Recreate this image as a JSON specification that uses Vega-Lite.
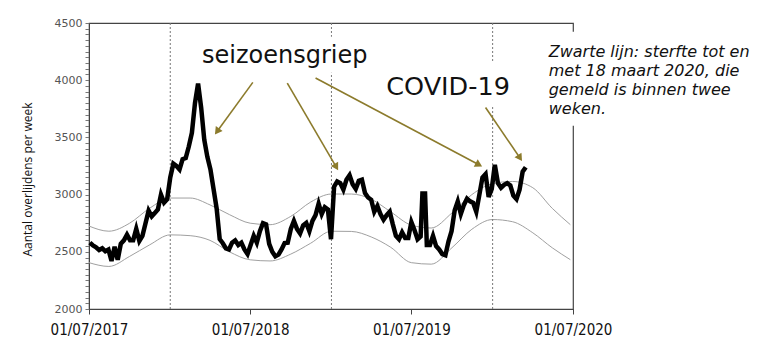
{
  "$schema": "https://vega.github.io/schema/vega-lite/v6.json",
  "width": 484,
  "height": 286,
  "autosize": {"type": "none"},
  "padding": {"left": 89, "top": 23, "right": 190, "bottom": 43},
  "background": "white",
  "config": {"view": {"stroke": "#444", "strokeWidth": 1.2}, "font": "DejaVu Sans"},
  "datasets": {
    "series": [
      {"date":"2017-07-03","deaths":2580},{"date":"2017-07-10","deaths":2555},{"date":"2017-07-17","deaths":2540},{"date":"2017-07-24","deaths":2515},
      {"date":"2017-07-31","deaths":2530},{"date":"2017-08-07","deaths":2505},{"date":"2017-08-14","deaths":2520},{"date":"2017-08-21","deaths":2420},
      {"date":"2017-08-28","deaths":2545},{"date":"2017-09-04","deaths":2430},{"date":"2017-09-11","deaths":2570},{"date":"2017-09-18","deaths":2600},
      {"date":"2017-09-25","deaths":2650},{"date":"2017-10-02","deaths":2600},{"date":"2017-10-09","deaths":2600},{"date":"2017-10-16","deaths":2700},
      {"date":"2017-10-23","deaths":2595},{"date":"2017-10-30","deaths":2640},{"date":"2017-11-06","deaths":2750},{"date":"2017-11-13","deaths":2860},
      {"date":"2017-11-20","deaths":2810},{"date":"2017-11-27","deaths":2840},{"date":"2017-12-04","deaths":2870},{"date":"2017-12-11","deaths":3000},
      {"date":"2017-12-18","deaths":2930},{"date":"2017-12-25","deaths":2960},{"date":"2018-01-01","deaths":3150},{"date":"2018-01-08","deaths":3270},
      {"date":"2018-01-15","deaths":3250},{"date":"2018-01-22","deaths":3220},{"date":"2018-01-29","deaths":3310},{"date":"2018-02-05","deaths":3320},
      {"date":"2018-02-12","deaths":3420},{"date":"2018-02-19","deaths":3540},{"date":"2018-02-26","deaths":3800},{"date":"2018-03-05","deaths":3970},
      {"date":"2018-03-12","deaths":3760},{"date":"2018-03-19","deaths":3480},{"date":"2018-03-26","deaths":3330},{"date":"2018-04-02","deaths":3220},
      {"date":"2018-04-09","deaths":3050},{"date":"2018-04-16","deaths":2880},{"date":"2018-04-23","deaths":2610},{"date":"2018-04-30","deaths":2575},
      {"date":"2018-05-07","deaths":2530},{"date":"2018-05-14","deaths":2520},{"date":"2018-05-21","deaths":2580},{"date":"2018-05-28","deaths":2600},
      {"date":"2018-06-04","deaths":2560},{"date":"2018-06-11","deaths":2580},{"date":"2018-06-18","deaths":2520},{"date":"2018-06-25","deaths":2480},
      {"date":"2018-07-02","deaths":2560},{"date":"2018-07-09","deaths":2640},{"date":"2018-07-16","deaths":2580},{"date":"2018-07-23","deaths":2680},
      {"date":"2018-07-30","deaths":2750},{"date":"2018-08-06","deaths":2740},{"date":"2018-08-13","deaths":2570},{"date":"2018-08-20","deaths":2500},
      {"date":"2018-08-27","deaths":2460},{"date":"2018-09-03","deaths":2475},{"date":"2018-09-10","deaths":2520},{"date":"2018-09-17","deaths":2577},
      {"date":"2018-09-24","deaths":2580},{"date":"2018-10-01","deaths":2700},{"date":"2018-10-08","deaths":2770},{"date":"2018-10-15","deaths":2700},
      {"date":"2018-10-22","deaths":2660},{"date":"2018-10-29","deaths":2730},{"date":"2018-11-05","deaths":2752},{"date":"2018-11-12","deaths":2680},
      {"date":"2018-11-19","deaths":2770},{"date":"2018-11-26","deaths":2820},{"date":"2018-12-03","deaths":2920},{"date":"2018-12-10","deaths":2830},
      {"date":"2018-12-17","deaths":2890},{"date":"2018-12-24","deaths":2870},{"date":"2018-12-31","deaths":2610},{"date":"2019-01-07","deaths":3070},
      {"date":"2019-01-14","deaths":3115},{"date":"2019-01-21","deaths":3100},{"date":"2019-01-28","deaths":3043},{"date":"2019-02-04","deaths":3130},
      {"date":"2019-02-11","deaths":3170},{"date":"2019-02-18","deaths":3090},{"date":"2019-02-25","deaths":3050},{"date":"2019-03-04","deaths":3120},
      {"date":"2019-03-11","deaths":3130},{"date":"2019-03-18","deaths":3014},{"date":"2019-03-25","deaths":2975},{"date":"2019-04-01","deaths":2955},
      {"date":"2019-04-08","deaths":2850},{"date":"2019-04-15","deaths":2900},{"date":"2019-04-22","deaths":2830},{"date":"2019-04-29","deaths":2780},
      {"date":"2019-05-06","deaths":2820},{"date":"2019-05-13","deaths":2850},{"date":"2019-05-20","deaths":2740},{"date":"2019-05-27","deaths":2640},
      {"date":"2019-06-03","deaths":2610},{"date":"2019-06-10","deaths":2670},{"date":"2019-06-17","deaths":2620},{"date":"2019-06-24","deaths":2620},
      {"date":"2019-07-01","deaths":2760},{"date":"2019-07-08","deaths":2690},{"date":"2019-07-15","deaths":2610},{"date":"2019-07-22","deaths":2635},
      {"date":"2019-07-26","deaths":3010},{"date":"2019-08-01","deaths":3010},{"date":"2019-08-05","deaths":2560},{"date":"2019-08-12","deaths":2560},{"date":"2019-08-19","deaths":2640},
      {"date":"2019-08-26","deaths":2550},{"date":"2019-09-02","deaths":2520},{"date":"2019-09-09","deaths":2480},{"date":"2019-09-16","deaths":2470},
      {"date":"2019-09-23","deaths":2590},{"date":"2019-09-30","deaths":2680},{"date":"2019-10-07","deaths":2860},{"date":"2019-10-14","deaths":2940},
      {"date":"2019-10-21","deaths":2830},{"date":"2019-10-28","deaths":2910},{"date":"2019-11-04","deaths":2965},{"date":"2019-11-11","deaths":2941},
      {"date":"2019-11-18","deaths":2927},{"date":"2019-11-25","deaths":2850},{"date":"2019-12-02","deaths":3000},{"date":"2019-12-09","deaths":3150},
      {"date":"2019-12-16","deaths":3180},{"date":"2019-12-23","deaths":2980},{"date":"2019-12-30","deaths":3050},{"date":"2020-01-06","deaths":3260},
      {"date":"2020-01-13","deaths":3100},{"date":"2020-01-20","deaths":3060},{"date":"2020-01-27","deaths":3086},{"date":"2020-02-03","deaths":3100},
      {"date":"2020-02-10","deaths":3080},{"date":"2020-02-17","deaths":2990},{"date":"2020-02-24","deaths":2960},{"date":"2020-03-02","deaths":3043},
      {"date":"2020-03-09","deaths":3200},{"date":"2020-03-16","deaths":3240}
    ],
    "bands": [
      {"date":"2017-07-01","upper":2725,"lower":2405},
      {"date":"2017-08-15","upper":2680,"lower":2372},
      {"date":"2017-10-01","upper":2750,"lower":2460},
      {"date":"2017-11-15","upper":2880,"lower":2560},
      {"date":"2018-01-01","upper":2970,"lower":2648},
      {"date":"2018-02-15","upper":2970,"lower":2641},
      {"date":"2018-04-01","upper":2910,"lower":2600},
      {"date":"2018-05-15","upper":2825,"lower":2500},
      {"date":"2018-07-01","upper":2750,"lower":2430},
      {"date":"2018-08-15","upper":2737,"lower":2420},
      {"date":"2018-10-01","upper":2810,"lower":2480},
      {"date":"2018-11-15","upper":2935,"lower":2575},
      {"date":"2019-01-01","upper":3005,"lower":2680},
      {"date":"2019-02-15","upper":3005,"lower":2678},
      {"date":"2019-04-01","upper":2960,"lower":2630},
      {"date":"2019-05-15","upper":2850,"lower":2540},
      {"date":"2019-07-01","upper":2733,"lower":2405},
      {"date":"2019-08-15","upper":2708,"lower":2392},
      {"date":"2019-10-01","upper":2840,"lower":2536},
      {"date":"2019-11-15","upper":3000,"lower":2697},
      {"date":"2020-01-01","upper":3096,"lower":2782},
      {"date":"2020-02-15","upper":3115,"lower":2763},
      {"date":"2020-04-01","upper":3060,"lower":2666},
      {"date":"2020-05-15","upper":2880,"lower":2535},
      {"date":"2020-06-25","upper":2737,"lower":2431}
    ],
    "seasons": [{"date":"2018-01-01"},{"date":"2019-01-01"},{"date":"2020-01-01"}],
    "boxes": [
      {"x0":"2018-02-26","x1":"2019-04-16","y0":4380,"y1":4065},
      {"x0":"2019-04-20","x1":"2020-02-27","y0":4153,"y1":3768},
      {"x0":"2020-04-17","x1":"2021-09-05","y0":4424,"y1":3602}
    ],
    "arrows": [
      {"n":1,"x0":"2018-07-07","y0":3981,"x1":"2018-04-17","y1":3552},
      {"n":2,"x0":"2018-09-23","y0":3975,"x1":"2019-01-12","y1":3241},
      {"n":3,"x0":"2018-11-26","y0":4019,"x1":"2019-12-01","y1":3261},
      {"n":4,"x0":"2019-12-16","y0":3762,"x1":"2020-03-03","y1":3320}
    ],
    "notes": [
      {"kind":"flu","date":"2018-03-14","value":4150,"text":"seizoensgriep"},
      {"kind":"covid","date":"2019-05-05","value":3873,"text":"COVID-19"},
      {"kind":"note","date":"2020-05-07","value":4205,"text":"Zwarte lijn: sterfte tot en\nmet 18 maart 2020, die\ngemeld is binnen twee\nweken."}
    ]
  },
  "layer": [
    {
      "data": {"name": "bands"},
      "mark": {"type": "line", "color": "#a0a0a0", "strokeWidth": 1, "interpolate": "monotone"},
      "encoding": {
        "x": {"field": "date", "type": "temporal",
          "scale": {"domain": [{"year":2017,"month":7,"date":1},{"year":2020,"month":7,"date":1}], "nice": false},
          "axis": {"values": [{"year":2017,"month":7,"date":1},{"year":2018,"month":7,"date":1},{"year":2019,"month":7,"date":1},{"year":2020,"month":7,"date":1}],
            "format": "%d/%m/%Y", "title": null, "grid": false, "labelFont": "DejaVu Sans Condensed", "labelFontSize": 15,
            "labelColor": "#111", "tickColor": "#444", "tickSize": 5, "domainColor": "#444", "labelPadding": 8,
            "labelFlush": false, "labelOverlap": false}},
        "y": {"field": "upper", "type": "quantitative",
          "scale": {"domain": [2000, 4500], "nice": false, "zero": false},
          "axis": {"title": "Aantal overlijdens per week", "tickCount": 50, "format": "d",
            "labelExpr": "datum.value % 500 === 0 ? datum.label : ''", "grid": false, "labelFontSize": 11,
            "labelColor": "#555", "tickSize": 4, "tickColor": "#777", "labelPadding": 3, "domainColor": "#444",
            "labelOverlap": false, "labelFlush": false,
            "titleFont": "Open Sans", "titleFontSize": 12, "titleFontWeight": "normal", "titleColor": "#111",
            "titleX": -62, "titleY": 156, "titleAngle": -90, "titleBaseline": "middle", "titleAlign": "center"}}
      }
    },
    {
      "data": {"name": "bands"},
      "mark": {"type": "line", "color": "#a0a0a0", "strokeWidth": 1, "interpolate": "monotone"},
      "encoding": {
        "x": {"field": "date", "type": "temporal"},
        "y": {"field": "lower", "type": "quantitative"}
      }
    },
    {
      "data": {"name": "seasons"},
      "mark": {"type": "rule", "color": "#777", "strokeWidth": 1, "strokeDash": [2, 2]},
      "encoding": {"x": {"field": "date", "type": "temporal"}}
    },
    {
      "data": {"name": "series"},
      "mark": {"type": "line", "color": "#000", "strokeWidth": 4.5, "interpolate": "linear", "strokeJoin": "miter"},
      "encoding": {
        "x": {"field": "date", "type": "temporal"},
        "y": {"field": "deaths", "type": "quantitative"}
      }
    },
    {
      "data": {"name": "boxes"},
      "mark": {"type": "rect", "color": "white", "clip": false},
      "encoding": {
        "x": {"field": "x0", "type": "temporal"},
        "x2": {"field": "x1"},
        "y": {"field": "y0", "type": "quantitative"},
        "y2": {"field": "y1"}
      }
    },
    {
      "data": {"name": "arrows"},
      "mark": {"type": "rule", "color": "#8c7b2c", "strokeWidth": 1.6},
      "encoding": {
        "x": {"field": "x0", "type": "temporal"},
        "x2": {"field": "x1"},
        "y": {"field": "y0", "type": "quantitative"},
        "y2": {"field": "y1"}
      }
    },
    {
      "data": {"name": "arrows"},
      "mark": {"type": "point", "shape": "triangle-up", "filled": true, "color": "#8c7b2c", "size": 70, "opacity": 1},
      "encoding": {
        "x": {"field": "x1", "type": "temporal"},
        "y": {"field": "y1", "type": "quantitative"},
        "angle": {"field": "n", "type": "quantitative", "scale": {"domain": [1, 2, 3, 4], "range": [216, 150, 118, 146]}, "legend": null}
      }
    },
    {
      "data": {"name": "notes"},
      "transform": [{"filter": "datum.kind === 'flu'"}],
      "mark": {"type": "text", "align": "left", "baseline": "alphabetic", "font": "DejaVu Sans", "fontSize": 24, "color": "#111"},
      "encoding": {
        "x": {"field": "date", "type": "temporal"},
        "y": {"field": "value", "type": "quantitative"},
        "text": {"field": "text"}
      }
    },
    {
      "data": {"name": "notes"},
      "transform": [{"filter": "datum.kind === 'covid'"}],
      "mark": {"type": "text", "align": "left", "baseline": "alphabetic", "font": "DejaVu Sans", "fontSize": 25.5, "color": "#111"},
      "encoding": {
        "x": {"field": "date", "type": "temporal"},
        "y": {"field": "value", "type": "quantitative"},
        "text": {"field": "text"}
      }
    },
    {
      "data": {"name": "notes"},
      "transform": [{"filter": "datum.kind === 'note'"}],
      "mark": {"type": "text", "align": "left", "baseline": "alphabetic", "font": "DejaVu Sans", "fontStyle": "italic", "fontSize": 16, "lineHeight": 19, "lineBreak": "\n", "color": "#111"},
      "encoding": {
        "x": {"field": "date", "type": "temporal"},
        "y": {"field": "value", "type": "quantitative"},
        "text": {"field": "text"}
      }
    }
  ]
}
